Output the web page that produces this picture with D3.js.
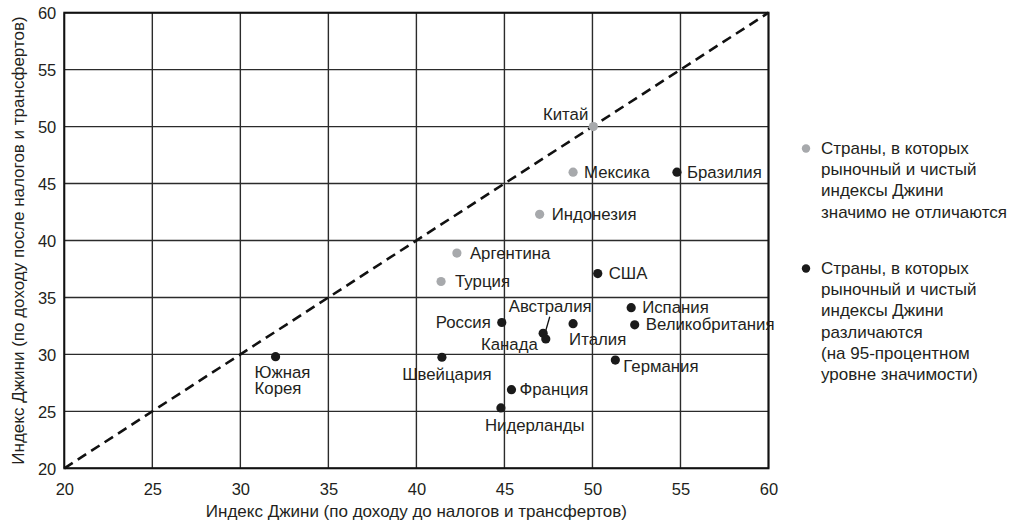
<!DOCTYPE html>
<html>
<head>
	<meta charset="utf-8">
	<script src="https://cdn.jsdelivr.net/npm/d3@7"></script>
	<style>
		body { margin: 0; background: white; }
		text { font-family: "Liberation Sans", Arial, sans-serif; fill: #231f20; }
	</style>
</head>
<body>
	<script>
		// data
		var countries = ["Китай", "Мексика", "Бразилия", "Индонезия", "Аргентина", "Турция", "США",
			"Испания", "Великобритания", "Россия", "Австралия", "Канада", "Италия", "Швейцария",
			"Германия", "Франция", "Нидерланды", "Южная Корея"];
		var marketGini = [50.05, 48.9, 54.8, 47.0, 42.3, 41.4, 50.3, 52.2, 52.4, 44.85, 47.2, 47.35, 48.9, 41.45, 51.3, 45.4, 44.8, 32.0];
		var netGini = [50.0, 46.0, 46.0, 42.3, 38.9, 36.4, 37.1, 34.1, 32.6, 32.8, 31.85, 31.35, 32.7, 29.75, 29.5, 26.9, 25.3, 29.8];
		var differs = [false, false, true, false, false, false, true, true, true, true, true, true, true, true, true, true, true, true];
		var xTicks = [20, 25, 30, 35, 40, 45, 50, 55, 60];
		var yTicks = [20, 25, 30, 35, 40, 45, 50, 55, 60];
		var legendSame = ["Страны, в которых", "рыночный и чистый", "индексы Джини", "значимо не отличаются"];
		var legendDiff = ["Страны, в которых", "рыночный и чистый", "индексы Джини", "различаются", "(на 95-процентном", "уровне значимости)"];

		// label placement: anchor, dx, dy (baseline)
		var labelPos = {
			"Китай": ["end", -5, -7],
			"Мексика": ["start", 11, 5.5],
			"Бразилия": ["start", 10, 5.5],
			"Индонезия": ["start", 12, 5.5],
			"Аргентина": ["start", 13, 5.5],
			"Турция": ["start", 14, 5.5],
			"США": ["start", 11, 5.5],
			"Испания": ["start", 11, 5.5],
			"Великобритания": ["start", 11, 5.5],
			"Россия": ["end", -11, 5.5],
			"Австралия": ["middle", 7, -21],
			"Канада": ["end", -8, 11],
			"Италия": ["start", -4, 21],
			"Швейцария": ["middle", 5, 23],
			"Германия": ["start", 8, 12],
			"Франция": ["start", 8, 5.5],
			"Нидерланды": ["start", -16, 23],
			"Южная Корея": ["start", -21, 21]
		};

		var W = 1017, H = 525;
		var pLeft = 64.3, pRight = 768.5, pTop = 12.7, pBottom = 468.3;
		var grey = "#a7a9ac", black = "#1a1a1a";

		var svg = d3.select("body").append("svg")
			.attr("width", W)
			.attr("height", H);

		var x = d3.scaleLinear().domain([20, 60]).range([pLeft, pRight]);
		var y = d3.scaleLinear().domain([20, 60]).range([pBottom, pTop]);

		// grid
		svg.append("g").selectAll("line").data(xTicks).join("line")
			.attr("x1", d => x(d)).attr("x2", d => x(d))
			.attr("y1", pTop).attr("y2", pBottom)
			.attr("stroke", "#2b2b2b").attr("stroke-width", 1.4);
		svg.append("g").selectAll("line").data(yTicks).join("line")
			.attr("x1", pLeft).attr("x2", pRight)
			.attr("y1", d => y(d)).attr("y2", d => y(d))
			.attr("stroke", "#2b2b2b").attr("stroke-width", 1.4);

		svg.append("rect")
			.attr("x", pLeft).attr("y", pTop)
			.attr("width", pRight - pLeft).attr("height", pBottom - pTop)
			.attr("fill", "none").attr("stroke", "#111").attr("stroke-width", 2);

		// tick labels via axes
		var xAxis = svg.append("g")
			.attr("transform", "translate(0," + pBottom + ")")
			.call(d3.axisBottom(x).tickValues(xTicks).tickSize(0).tickPadding(11));
		var yAxis = svg.append("g")
			.attr("transform", "translate(" + pLeft + ",0)")
			.call(d3.axisLeft(y).tickValues(yTicks).tickSize(0).tickPadding(8));
		[xAxis, yAxis].forEach(function(a) {
			a.select(".domain").remove();
			a.selectAll("text")
				.style("font-family", '"Liberation Sans", Arial, sans-serif')
				.style("font-size", "16.5px")
				.attr("fill", "#231f20");
		});
		xAxis.selectAll("text").attr("dy", "0.95em");
		yAxis.selectAll("text").attr("dy", "0.35em");

		// 45-degree line
		svg.append("line")
			.attr("x1", x(20)).attr("y1", y(20))
			.attr("x2", x(60)).attr("y2", y(60))
			.attr("stroke", "#111").attr("stroke-width", 2.6)
			.attr("stroke-dasharray", "10,6");

		// axis titles
		svg.append("text")
			.attr("x", (pLeft + pRight) / 2).attr("y", 517)
			.attr("text-anchor", "middle")
			.style("font-size", "17px")
			.text("Индекс Джини (по доходу до налогов и трансфертов)");
		svg.append("text")
			.attr("transform", "translate(24," + ((pTop + pBottom) / 2) + ") rotate(-90)")
			.attr("text-anchor", "middle")
			.style("font-size", "17px")
			.text("Индекс Джини (по доходу после налогов и трансфертов)");

		var pts = countries.map(function(c, i) {
			return { name: c, mx: marketGini[i], ny: netGini[i], diff: differs[i] };
		});

		// leader line for Australia
		var au = pts.find(d => d.name === "Австралия");
		svg.append("line")
			.attr("x1", x(au.mx) + 6.6).attr("y1", y(au.ny) - 16.6)
			.attr("x2", x(au.mx) + 2.3).attr("y2", y(au.ny) - 1.6)
			.attr("stroke", "#111").attr("stroke-width", 1.3);

		svg.append("g").selectAll("circle").data(pts).join("circle")
			.attr("cx", d => x(d.mx))
			.attr("cy", d => y(d.ny))
			.attr("r", 4.6)
			.attr("fill", d => d.diff ? black : grey);

		var labels = svg.append("g").selectAll("text").data(pts).join("text")
			.attr("x", d => x(d.mx) + labelPos[d.name][1])
			.attr("y", d => y(d.ny) + labelPos[d.name][2])
			.attr("text-anchor", d => labelPos[d.name][0])
			.style("font-size", "16.8px");
		labels.each(function(d) {
			var t = d3.select(this);
			var parts = d.name === "Южная Корея" ? ["Южная", "Корея"] : [d.name];
			parts.forEach(function(p, k) {
				t.append("tspan")
					.attr("x", x(d.mx) + labelPos[d.name][1])
					.attr("dy", k === 0 ? 0 : 16)
					.text(p);
			});
		});

		// legend
		function legendBlock(lines, color, cy, firstBase) {
			svg.append("circle").attr("cx", 806).attr("cy", cy).attr("r", 4.2).attr("fill", color);
			var t = svg.append("text").attr("x", 821).attr("y", firstBase).style("font-size", "17px");
			lines.forEach(function(l, k) {
				t.append("tspan").attr("x", 821).attr("dy", k === 0 ? 0 : 21.2).text(l);
			});
		}
		legendBlock(legendSame, grey, 148.5, 154);
		legendBlock(legendDiff, black, 268.5, 274);
	</script>
</body>
</html>
